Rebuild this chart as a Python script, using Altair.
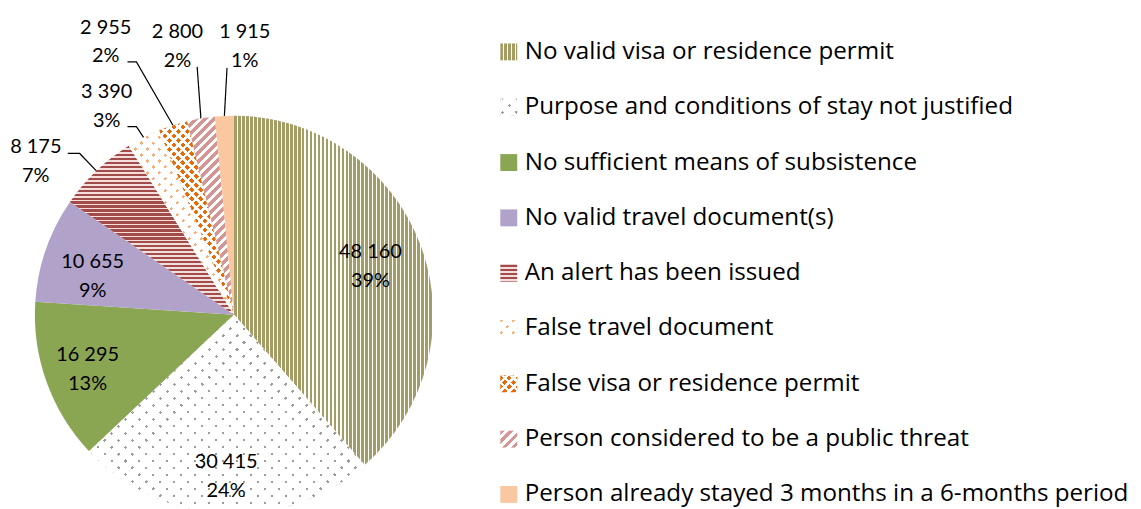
import math
import altair as alt
import pandas as pd

# ---------------- data ----------------
CATEGORIES = [
    "No valid visa or residence permit",
    "Purpose and conditions of stay not justified",
    "No sufficient means of subsistence",
    "No valid travel document(s)",
    "An alert has been issued",
    "False travel document",
    "False visa or residence permit",
    "Person considered to be a public threat",
    "Person already stayed 3 months in  a 6-months period",
]
VALUES = [48160, 30415, 16295, 10655, 8175, 3390, 2955, 2800, 1915]
PCT_LABELS = ["39%", "24%", "13%", "9%", "7%", "3%", "2%", "2%", "1%"]

# ---------------- layout / style (not data) ----------------
W, H = 1130, 501          # chart size in px
R = 200                   # pie radius px
CX, CY = 227, 307         # pie centre in chart px
FONT = "Lato"
LEGEND_FONT = "Open Sans"
LABEL_SIZE = 20
LEGEND_SIZE = 24.3
# label block placement: (angle deg clockwise from 12 o'clock, distance in pie radii)
LABEL_POLAR = [(70.5, 0.727), (182.8, 0.813), (249.5, 0.785), (285.0, 0.735),
               (307.7, 1.258), (328.6, 1.2275), (334.8, 1.514), (348.1, 1.377), (2.3, 1.349)]
# leader line start points (pie-radius units, y up); they end on the slice edge
LEADER_START = {
    4: [(-0.835, 0.81), (-0.775, 0.81)],
    5: [(-0.535, 0.945), (-0.49, 0.945)],
    6: [(-0.535, 1.27), (-0.49, 1.27)],
    7: [(-0.185, 1.245)],
    8: [(-0.035, 1.24)],
}
LEGEND_Y_RANGE = [43, 487.5]
LEG_SYMBOL_X, LEG_TEXT_X, LEG_SYMBOL = 503, 519, 17
CLEAR = "rgba(255,255,255,0)"

# pattern styles per category
STYLE = [
    {"base": ("stripes", (1, 0), 4.0, 0.7, "#A39C64", "#FFFFFF")},
    {"base": "#FFFFFF", "dots": ("#9C9C9C", 14, 2.2)},
    {"base": "#8BA653"},
    {"base": "#B1A2C9"},
    {"base": ("stripes", (0, 1), 4.0, 0.55, "#A24C4A", "#F3DEDD")},
    {"base": "#FFFFFF", "dots": ("#F7AE74", 12, 2.3)},
    {"base": "#FFFFFF", "dots": ("#E46C0A", 9, 3.8)},
    {"base": ("stripes", (1, 1), 6.4, 0.5, "#D49694", "#FFFFFF")},
    {"base": "#FAC8A0"},
]


def stripes(direction, sx, sy, period, on_frac, on_col, off_col, phase=0.0):
    dx, dy = direction
    n = math.hypot(dx, dy)
    dx, dy = dx / n, dy / n
    corners = [(0.0, 0.0), (sx, 0.0), (0.0, sy), (sx, sy)]
    proj = [dx * cx + dy * cy for cx, cy in corners]
    lo, hi = min(proj), max(proj)
    L = hi - lo
    c0 = corners[proj.index(lo)]
    wx, wy = dx * sx, dy * sy
    w2 = wx * wx + wy * wy
    x1, y1 = c0[0] / sx, c0[1] / sy
    x2, y2 = x1 + wx * L / w2, y1 + wy * L / w2
    stops = []

    def seg(a, b, col):
        a, b = max(a, 0.0), min(b, L)
        if b > a:
            stops.append({"offset": round(a / L, 5), "color": col})
            stops.append({"offset": round(b / L, 5), "color": col})

    k = -1
    while k * period + phase < L:
        a = k * period + phase
        seg(a, a + on_frac * period, on_col)
        seg(a + on_frac * period, a + period, off_col)
        k += 1
    return {"gradient": "linear", "x1": round(x1, 5), "y1": round(y1, 5),
            "x2": round(x2, 5), "y2": round(y2, 5), "stops": stops}


def fills_for(i, sx, sy):
    st = STYLE[i]
    b = st["base"]
    base = b if isinstance(b, str) else stripes(b[1], sx, sy, b[2], b[3], b[4], b[5])
    if "dots" in st:
        col, spacing, size = st["dots"]
        p = spacing / math.sqrt(2)
        ma = stripes((1, 1), sx, sy, p, size / p, col, CLEAR)
        mb = stripes((1, -1), sx, sy, p, size / p, CLEAR, "#FFFFFF", phase=p * 0.3)
    else:
        ma = mb = None
    return base, ma, mb


def arc_bbox(a0, a1, r):
    pts = [(0.0, 0.0)]
    for a in [a0, a1] + [c for c in (0, 90, 180, 270, 360) if a0 < c < a1]:
        pts.append((r * math.sin(math.radians(a)), -r * math.cos(math.radians(a))))
    xs = [p[0] for p in pts]
    ys = [p[1] for p in pts]
    return max(max(xs) - min(xs), 1.0), max(max(ys) - min(ys), 1.0)


total = sum(VALUES)
cum = [0]
for v in VALUES:
    cum.append(cum[-1] + v)
ang = [c * 360.0 / total for c in cum]


def cond_fill(items):
    conds = [{"test": f"datum.idx == {i}", "value": f} for i, f in items if f is not None]
    return alt.FillValue(value=CLEAR, condition=conds)


slice_fills = [fills_for(i, *arc_bbox(ang[i], ang[i + 1], R)) for i in range(len(VALUES))]
legend_fills = [fills_for(i, LEG_SYMBOL, LEG_SYMBOL) for i in range(len(VALUES))]

pie_df = pd.DataFrame({"idx": list(range(len(VALUES))), "cat": CATEGORIES, "value": VALUES})

lab_rows = []
for i, (a, r) in enumerate(LABEL_POLAR):
    lab_rows.append({"idx": i,
                     "x": r * math.sin(math.radians(a)),
                     "y": r * math.cos(math.radians(a)),
                     "num": f"{VALUES[i]:,}".replace(",", " "),
                     "pct": PCT_LABELS[i]})
lab_df = pd.DataFrame(lab_rows)

line_rows = []
for i, pts in LEADER_START.items():
    mid = math.radians((ang[i] + ang[i + 1]) / 2)
    allpts = pts + [(math.sin(mid), math.cos(mid))]
    for s, (x, y) in enumerate(allpts):
        line_rows.append({"idx": i, "seq": s, "x": x, "y": y})
line_df = pd.DataFrame(line_rows)

XS = alt.Scale(domain=[-CX / R, (W - CX) / R], nice=False, zero=False)
YS = alt.Scale(domain=[-(H - CY) / R, CY / R], nice=False, zero=False)
LS = alt.Scale(domain=CATEGORIES, range=LEGEND_Y_RANGE, padding=0)


def arc_layer(k):
    return alt.Chart(pie_df).mark_arc(radius=R, strokeWidth=0).encode(
        theta=alt.Theta("value:Q", stack=True),
        order=alt.Order("idx:Q", sort="ascending"),
        detail="cat:N",
        x=alt.X(datum=0, type="quantitative", scale=XS, axis=None),
        y=alt.Y(datum=0, type="quantitative", scale=YS, axis=None),
        fill=cond_fill([(i, slice_fills[i][k]) for i in range(len(VALUES))]),
    )


def legend_sym_layer(k):
    return alt.Chart(pie_df).mark_point(shape="square", filled=True, size=LEG_SYMBOL ** 2,
                                        opacity=1, strokeWidth=0).encode(
        x=alt.value(LEG_SYMBOL_X),
        y=alt.Y("cat:N", scale=LS, axis=None),
        fill=cond_fill([(i, legend_fills[i][k]) for i in range(len(VALUES))]),
    )


lines = alt.Chart(line_df).mark_line(color="#000000", strokeWidth=1.2).encode(
    x=alt.X("x:Q", scale=XS, axis=None),
    y=alt.Y("y:Q", scale=YS, axis=None),
    detail="idx:N",
    order="seq:Q",
)

num_text = alt.Chart(lab_df).mark_text(font=FONT, fontSize=LABEL_SIZE, color="#000000",
                                       align="center", baseline="middle", dy=-14.5).encode(
    x=alt.X("x:Q", scale=XS, axis=None),
    y=alt.Y("y:Q", scale=YS, axis=None),
    text="num:N",
)
pct_text = alt.Chart(lab_df).mark_text(font=FONT, fontSize=LABEL_SIZE, color="#000000",
                                       align="center", baseline="middle", dy=14.5).encode(
    x=alt.X("x:Q", scale=XS, axis=None),
    y=alt.Y("y:Q", scale=YS, axis=None),
    text="pct:N",
)

legend_text = alt.Chart(pie_df).mark_text(font=LEGEND_FONT, fontSize=LEGEND_SIZE, color="#000000",
                                          align="left", baseline="middle").encode(
    x=alt.value(LEG_TEXT_X),
    y=alt.Y("cat:N", scale=LS, axis=None),
    text="cat:N",
)

chart = alt.layer(
    arc_layer(0), arc_layer(1), arc_layer(2), lines, num_text, pct_text,
    legend_sym_layer(0), legend_sym_layer(1), legend_sym_layer(2), legend_text,
).resolve_scale(y="independent").properties(
    width=W, height=H, padding=0,
    autosize=alt.AutoSizeParams(type="none"),
).configure_view(stroke=None)

chart.save("out.html", embed_options={"renderer": "svg", "actions": False})
